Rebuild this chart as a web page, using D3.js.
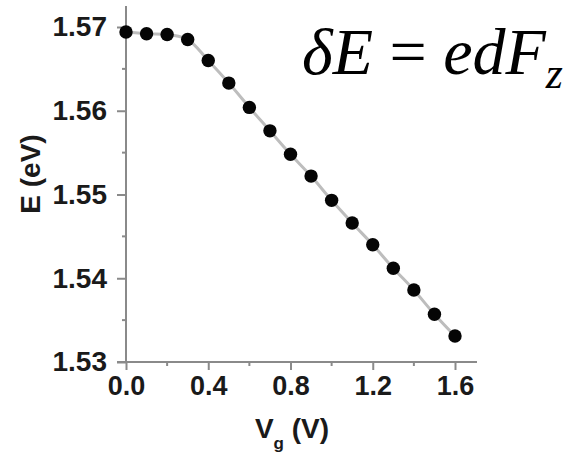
<!DOCTYPE html>
<html><head><meta charset="utf-8">
<script src="https://cdn.jsdelivr.net/npm/d3@7"></script>
<style>body{margin:0;background:#fff}svg{display:block}</style>
</head><body>
<svg id="c" width="570" height="454"></svg>
<script>
const vg = [0.0,0.1,0.2,0.3,0.4,0.5,0.6,0.7,0.8,0.9,1.0,1.1,1.2,1.3,1.4,1.5,1.6];
const energy = [1.5694,1.5692,1.5691,1.5685,1.5660,1.5633,1.5604,1.5576,1.5548,1.5522,1.5493,1.5466,1.5440,1.5412,1.5386,1.5357,1.5331];
const xTicks = [0.0,0.4,0.8,1.2,1.6];
const xMinor = [0.2,0.6,1.0,1.4];
const yTicks = [1.53,1.54,1.55,1.56,1.57];
const yMinor = [1.535,1.545,1.555,1.565];

const svg = d3.select("#c");
const x = d3.scaleLinear().domain([0,1.6]).range([126,455]);
const y = d3.scaleLinear().domain([1.53,1.57]).range([362,27]);
const axisCol = "#8a8a8a";
const font = "'Liberation Sans', Arial, sans-serif";

// axis lines
svg.append("line").attr("x1",126).attr("x2",126).attr("y1",6).attr("y2",362)
  .attr("stroke",axisCol).attr("stroke-width",2);
svg.append("line").attr("x1",117).attr("x2",477).attr("y1",y(1.53)).attr("y2",y(1.53))
  .attr("stroke",axisCol).attr("stroke-width",2);

// y ticks
const yAxis = d3.axisLeft(y).tickValues(yTicks).tickFormat(d3.format(".2f")).tickSize(9).tickPadding(10);
const gy = svg.append("g").attr("transform","translate(126,0)").call(yAxis);
gy.select(".domain").remove();
gy.selectAll(".tick line").attr("stroke",axisCol).attr("stroke-width",2);
gy.selectAll(".tick text").attr("font-family",font).attr("font-weight","bold").attr("font-size",28).attr("fill","#1a1a1a");
svg.append("g").selectAll("line").data(yMinor).join("line")
  .attr("x1",122).attr("x2",126).attr("y1",d=>y(d)).attr("y2",d=>y(d))
  .attr("stroke",axisCol).attr("stroke-width",2);

// x ticks
const xAxis = d3.axisBottom(x).tickValues(xTicks).tickFormat(d3.format(".1f")).tickSize(8).tickPadding(6);
const gx = svg.append("g").attr("transform",`translate(0,${y(1.53)})`).call(xAxis);
gx.select(".domain").remove();
gx.selectAll(".tick line").attr("stroke",axisCol).attr("stroke-width",2);
gx.selectAll(".tick text").attr("font-family",font).attr("font-weight","bold").attr("font-size",27).attr("fill","#1a1a1a");
svg.append("g").selectAll("line").data(xMinor).join("line")
  .attr("x1",d=>x(d)).attr("x2",d=>x(d)).attr("y1",y(1.53)).attr("y2",y(1.53)+4)
  .attr("stroke",axisCol).attr("stroke-width",2);

// connecting line
const pts = vg.map((v,i)=>[v,energy[i]]);
svg.append("path").datum(pts)
  .attr("d",d3.line().x(d=>x(d[0])).y(d=>y(d[1])).curve(d3.curveMonotoneX))
  .attr("fill","none").attr("stroke","#bdbdbd").attr("stroke-width",3);

// points
svg.append("g").selectAll("circle").data(pts).join("circle")
  .attr("cx",d=>x(d[0])).attr("cy",d=>y(d[1])).attr("r",6.7).attr("fill","#050505");

// axis titles
const xt = svg.append("text").attr("x",292).attr("y",438).attr("text-anchor","middle")
  .attr("font-family",font).attr("font-weight","bold").attr("font-size",28).attr("fill","#1a1a1a");
xt.append("tspan").text("V");
xt.append("tspan").attr("font-size",17).attr("dy",11).text("g");
xt.append("tspan").attr("dy",-11).text(" (V)");

svg.append("text").attr("transform","translate(40,174) rotate(-90)").attr("text-anchor","middle")
  .attr("font-family",font).attr("font-weight","bold").attr("font-size",28).attr("fill","#1a1a1a")
  .text("E (eV)");

// equation
const eq = svg.append("text").attr("x",302).attr("y",74)
  .attr("font-family","'Liberation Serif','Times New Roman',serif").attr("font-size",66).attr("fill","#000");
eq.append("tspan").attr("font-style","italic").text("δE");
eq.append("tspan").text(" = ");
eq.append("tspan").attr("font-style","italic").text("edF");
eq.append("tspan").attr("font-style","italic").attr("font-size",44).attr("dy",14).text("z");
</script>
</body></html>
